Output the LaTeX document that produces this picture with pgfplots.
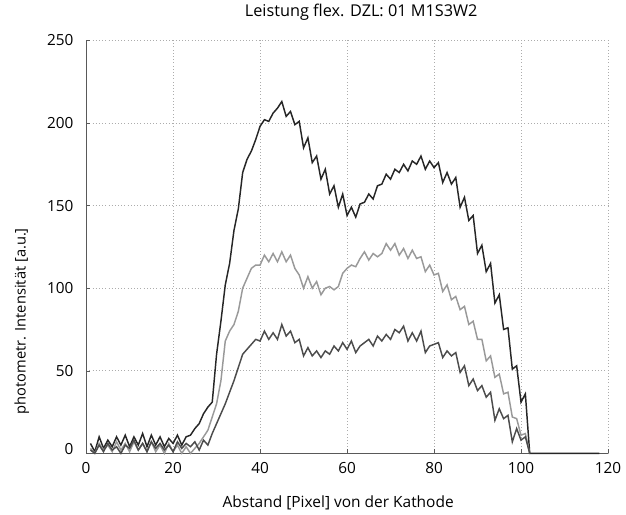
\documentclass[border=0pt]{standalone}
\usepackage{pgfplots}
\pgfplotsset{compat=1.18}
\usepackage{fontspec}
\setmainfont{Open Sans}
\begin{document}
\begin{tikzpicture}[x=0.75pt,y=0.75pt]
\begin{axis}[
  width=391.5pt, height=309.75pt, scale only axis,
  xmin=0, xmax=120, ymin=0, ymax=250,
  xtick={0,20,...,120}, ytick={0,50,...,250},
  yticklabels={{\raisebox{6pt}{0}},50,100,150,200,250},
  axis x line*=bottom, axis y line*=left,
  axis line style={gray!70!black, line width=0.6pt, -},
  tick align=inside, major tick length=3pt,
  tick style={gray!70!black},
  grid=major,
  major grid style={gray!65, dotted, line width=0.6pt},
  font=\fontsize{11.6}{13}\selectfont,
  /pgf/number format/assume math mode=true,
  ticklabel style={font=\fontsize{11.5}{13}\selectfont},
  xticklabel style={yshift=-3pt},
  yticklabel style={xshift=-6pt},
  clip=false,
  title={Leistung flex. DZL: 01 M1S3W2},
  title style={at={(rel axis cs:0.527,1.048)}, anchor=center, font=\fontsize{12.2}{14}\selectfont},
  xlabel={Abstand [Pixel] von der Kathode},
  xlabel style={at={(rel axis cs:0.483,-0.119)}, anchor=center},
  ylabel={photometr. Intensität [a.u.]},
  ylabel style={at={(rel axis cs:-0.123,0.32)}, anchor=center, rotate=0, font=\fontsize{11}{13}\selectfont},
]
\path (rel axis cs:-0.165,-0.140) rectangle (rel axis cs:1.0345,1.087);
% top dark series
\addplot[black!85, line width=1.1pt] coordinates {
(1,6)(2,1)(3,10)(4,3)(5,8)(6,4)(7,10)(8,5)(9,11)(10,4)(11,10)(12,5)(13,12)(14,4)(15,11)(16,5)(17,10)(18,4)(19,9)(20,6)(21,11)(22,5)(23,10)(24,11)(25,15)(26,18)(27,24)(28,28)(29,31)(30,60)(31,80)(32,102)(33,115)(34,135)(35,148)(36,170)(37,178)(38,183)(39,190)(40,198)(41,202)(42,201)(43,206)(44,209)(45,213)(46,204)(47,207)(48,199)(49,201)(50,185)(51,191)(52,176)(53,180)(54,166)(55,172)(56,157)(57,162)(58,149)(59,157)(60,144)(61,149)(62,143)(63,151)(64,152)(65,157)(66,154)(67,162)(68,163)(69,169)(70,166)(71,172)(72,170)(73,175)(74,171)(75,177)(76,175)(77,180)(78,172)(79,177)(80,173)(81,176)(82,164)(83,170)(84,163)(85,167)(86,149)(87,155)(88,141)(89,144)(90,121)(91,126)(92,110)(93,115)(94,91)(95,96)(96,75)(97,76)(98,51)(99,53)(100,31)(101,36)(102,0)(105,0)(110,0)(115,0)(118,0)
};
% middle light series
\addplot[black!40, line width=1.1pt] coordinates {
(1,3)(2,0)(3,6)(4,2)(5,5)(6,1)(7,7)(8,2)(9,6)(10,1)(11,7)(12,2)(13,6)(14,1)(15,7)(16,1)(17,5)(18,0)(19,6)(20,1)(21,5)(22,0)(23,4)(24,0)(25,3)(26,6)(27,10)(28,14)(29,22)(30,30)(31,44)(32,68)(33,74)(34,78)(35,86)(36,100)(37,106)(38,112)(39,114)(40,114)(41,120)(42,116)(43,121)(44,116)(45,122)(46,116)(47,120)(48,112)(49,108)(50,100)(51,107)(52,100)(53,104)(54,96)(55,100)(56,101)(57,99)(58,101)(59,109)(60,112)(61,114)(62,113)(63,118)(64,122)(65,117)(66,121)(67,119)(68,121)(69,127)(70,123)(71,127)(72,120)(73,124)(74,118)(75,123)(76,118)(77,119)(78,110)(79,114)(80,108)(81,109)(82,98)(83,102)(84,93)(85,95)(86,87)(87,89)(88,78)(89,80)(90,69)(91,69)(92,56)(93,59)(94,46)(95,48)(96,36)(97,37)(98,22)(99,21)(100,11)(101,12)(102,0)
};
% bottom dark gray series
\addplot[black!70, line width=1.1pt] coordinates {
(1,2)(2,0)(3,5)(4,1)(5,6)(6,2)(7,4)(8,0)(9,5)(10,3)(11,8)(12,2)(13,6)(14,1)(15,7)(16,3)(17,6)(18,2)(19,5)(20,1)(21,7)(22,3)(23,6)(24,4)(25,7)(26,2)(27,8)(28,5)(29,12)(30,18)(31,24)(32,30)(33,37)(34,44)(35,52)(36,60)(37,63)(38,66)(39,69)(40,68)(41,74)(42,69)(43,73)(44,69)(45,78)(46,71)(47,74)(48,67)(49,69)(50,59)(51,64)(52,59)(53,62)(54,58)(55,62)(56,60)(57,65)(58,62)(59,67)(60,63)(61,68)(62,61)(63,65)(64,67)(65,69)(66,65)(67,71)(68,68)(69,72)(70,69)(71,75)(72,73)(73,77)(74,68)(75,73)(76,68)(77,74)(78,61)(79,65)(80,66)(81,67)(82,58)(83,62)(84,59)(85,61)(86,49)(87,53)(88,41)(89,45)(90,38)(91,41)(92,34)(93,37)(94,20)(95,27)(96,21)(97,23)(98,7)(99,15)(100,8)(101,10)(102,0)
};
\end{axis}
\end{tikzpicture}
\end{document}
